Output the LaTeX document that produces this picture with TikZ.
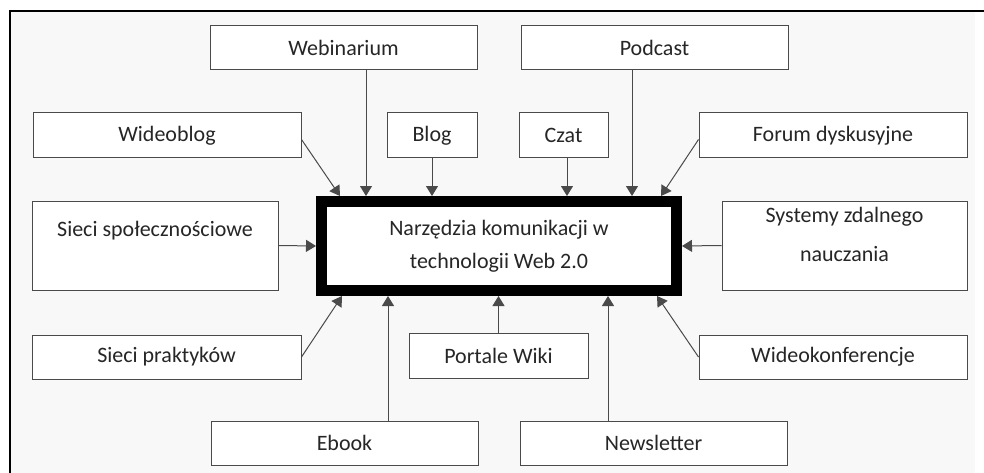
\documentclass[tikz,border=0pt]{standalone}
\usepackage{fontspec}
\setmainfont{Carlito}
\usetikzlibrary{arrows,shapes}
\usetikzlibrary{arrows.meta}
\definecolor{ink}{HTML}{262626}
\definecolor{edge}{HTML}{4A4A4A}
\definecolor{paper}{HTML}{F8F8F8}

\begin{document}
\begin{tikzpicture}[x=1pt,y=-1pt,
box/.style={draw=edge,fill=white,line width=1pt,rectangle,inner sep=0pt,
  text=ink,font=\fontsize{22}{36}\selectfont,align=center},
arr/.style={draw=edge,line width=1pt,-{Triangle[length=10pt,width=12pt]}}]
\useasboundingbox (0,0) rectangle (984,473);
\fill[paper] (10,11) rectangle (975,473);
\draw[line width=2pt,black] (10,473)--(10,11)--(984,11);
\node[box,minimum width=355pt,minimum height=89pt,line width=11pt,draw=black,
  font=\fontsize{22}{33}\selectfont] (main) at (499,246)
  {Narzędzia komunikacji w\\technologii Web 2.0};
\node[box,minimum width=267pt,minimum height=44pt] (web) at (343.5,48) {Webinarium};
\node[box,minimum width=267pt,minimum height=44pt] (pod) at (654.5,48) {Podcast};
\node[box,minimum width=268pt,minimum height=45pt] (wb) at (167,135.5) {Wideoblog};
\node[box,minimum width=90pt,minimum height=45pt] (blog) at (432,135.5) {Blog};
\node[box,minimum width=89pt,minimum height=45pt] (czat) at (563.5,135.5) {Czat};
\node[box,minimum width=268pt,minimum height=45pt] (forum) at (833,135.5) {Forum dyskusyjne};
\node[box,minimum width=246pt,minimum height=89pt,text depth=33pt] (soc) at (155,245.5) {Sieci społecznościowe};
\node[box,minimum width=245pt,minimum height=89pt,text depth=23pt,
  font=\fontsize{22}{39}\selectfont] (sys) at (844.5,245.5) {Systemy zdalnego\\nauczania};
\node[box,minimum width=269pt,minimum height=44pt] (prak) at (166.5,357) {Sieci praktyków};
\node[box,minimum width=179pt,minimum height=45pt] (wiki) at (498.5,355.5) {Portale Wiki};
\node[box,minimum width=268pt,minimum height=44pt] (wk) at (833,357) {Wideokonferencje};
\node[box,minimum width=267pt,minimum height=44pt] (ebook) at (344.5,443) {Ebook};
\node[box,minimum width=267pt,minimum height=44pt] (news) at (653.5,443) {Newsletter};
\draw[arr] ([xshift=22.5pt]web.south)--([xshift=22.5pt]web.south |- main.north);
\draw[arr] (blog)--(blog |- main.north);
\draw[arr] ([xshift=3.5pt]czat.south)--([xshift=3.5pt]czat.south |- main.north);
\draw[arr] ([xshift=-22.5pt]pod.south)--([xshift=-22.5pt]pod.south |- main.north);
\draw[arr] ([yshift=-4pt]wb.east)--([xshift=24pt]main.north west);
\draw[arr] ([yshift=-4pt]forum.west)--([xshift=-21pt]main.north east);
\draw[arr] (soc.east)--(main.west);
\draw[arr] (sys.west)--(main.east);
\draw[arr] (prak.east)--([xshift=26pt]main.south west);
\draw[arr] (wk.west)--([xshift=-25pt]main.south east);
\draw[arr] ([xshift=43.5pt]ebook.north)--([xshift=43.5pt]ebook.north |- main.south);
\draw[arr] (wiki)--(wiki |- main.south);
\draw[arr] ([xshift=-45.5pt]news.north)--([xshift=-45.5pt]news.north |- main.south);
\end{tikzpicture}
\end{document}
